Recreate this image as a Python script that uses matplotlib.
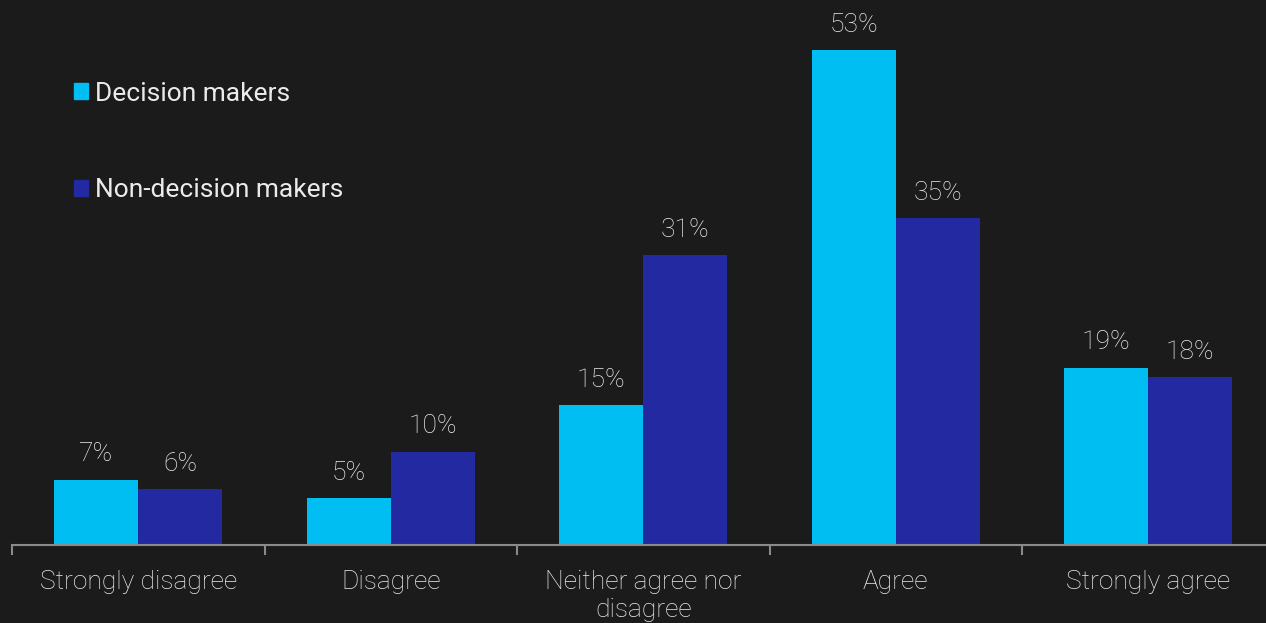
import matplotlib
matplotlib.use("Agg")
import matplotlib.pyplot as plt
from matplotlib.patches import Patch
import numpy as np

categories = ["Strongly disagree", "Disagree", "Neither agree nor\ndisagree", "Agree", "Strongly agree"]
decision_makers = [7, 5, 15, 53, 19]
non_decision_makers = [6, 10, 31, 35, 18]
series_names = ["Decision makers", "Non-decision makers"]

BG = "#1b1b1b"
CYAN = "#00bef2"
BLUE = "#2329a0"
TEXT = "#ebebeb"
AXIS = "#8a8a8a"

plt.rcParams["font.family"] = ["Roboto", "DejaVu Sans"]

fig = plt.figure(figsize=(12.66, 6.23), dpi=100, facecolor=BG)
ax = fig.add_axes([12 / 1266, 78 / 623, 1262.5 / 1266, 545 / 623])
ax.set_facecolor(BG)

x = np.arange(len(categories))
w = 1 / 3
b1 = ax.bar(x - w / 2, decision_makers, w, color=CYAN, label=series_names[0])
b2 = ax.bar(x + w / 2, non_decision_makers, w, color=BLUE, label=series_names[1])

for bars, vals in ((b1, decision_makers), (b2, non_decision_makers)):
    for r, v in zip(bars, vals):
        ax.annotate(f"{v}%", (r.get_x() + r.get_width() / 2, v),
                    xytext=(0, 9.5), textcoords="offset points",
                    ha="center", va="bottom", color=TEXT,
                    fontsize=19, fontweight="light")

ax.set_xlim(-0.5, 4.5)
ax.set_ylim(0, 545 / 9.34)
ax.set_yticks([])
for s in ("top", "right", "left"):
    ax.spines[s].set_visible(False)
ax.spines["bottom"].set_color(AXIS)
ax.spines["bottom"].set_linewidth(1.5)

ax.set_xticks(x)
ax.set_xticklabels(categories, color=TEXT, fontsize=19, fontweight="light",
                   linespacing=1.2)
ax.tick_params(axis="x", length=0, pad=18)
ax.set_xticks(np.arange(-0.5, 4.6, 1), minor=True)
ax.tick_params(axis="x", which="minor", length=7, width=1.5, color=AXIS)

handles = [Patch(color=CYAN), Patch(color=BLUE)]
leg = ax.legend(handles, series_names, loc="upper left",
                bbox_to_anchor=(51 / 1262.5, 1 - 71 / 545),
                frameon=False, fontsize=19, handlelength=0.55, handleheight=0.55,
                handletextpad=0.25, labelspacing=2.75, borderaxespad=0)
for t in leg.get_texts():
    t.set_color(TEXT)

fig.savefig("out.png", dpi=100, facecolor=BG)
